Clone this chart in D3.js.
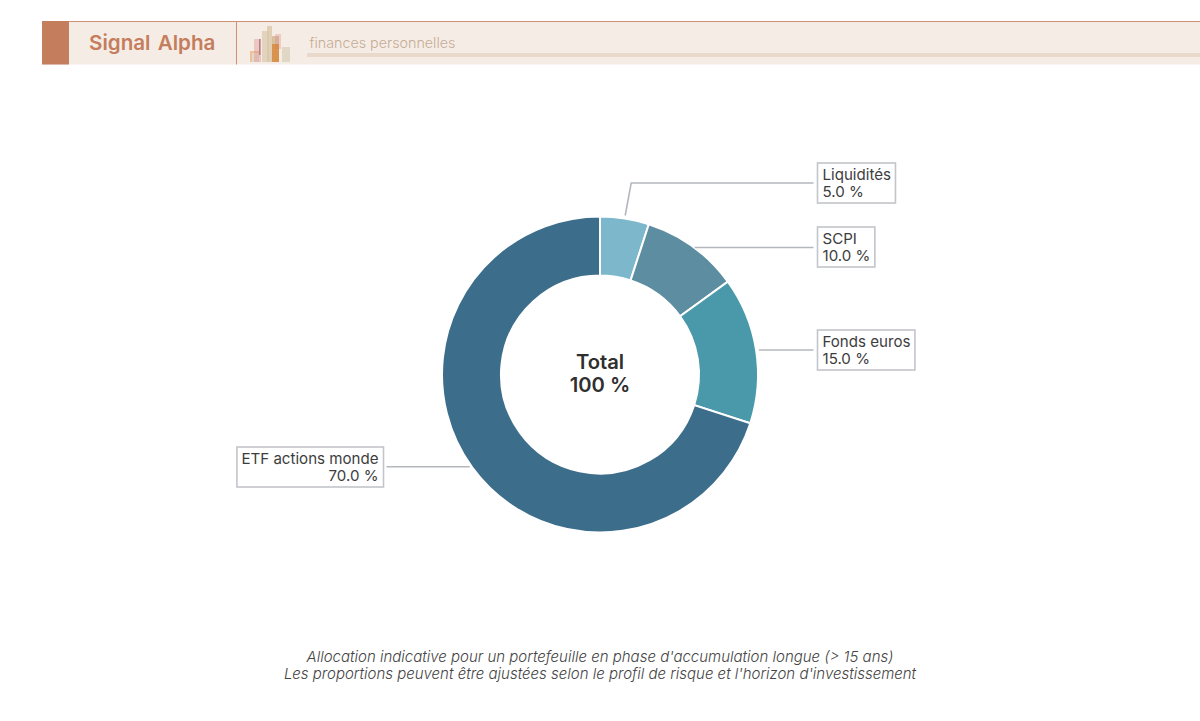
<!DOCTYPE html>
<html lang="fr">
<head>
<meta charset="utf-8">
<title>Signal Alpha</title>
<script src="https://cdn.jsdelivr.net/npm/d3@7"></script>
<style>
  html, body { margin: 0; padding: 0; background: #ffffff; }
  svg { display: block; }
</style>
</head>
<body>
<svg id="chart" width="1200" height="721"></svg>
<script>
// Allocation, in percent, clockwise from twelve o'clock
const categories = ["Liquidités", "SCPI", "Fonds euros", "ETF actions monde"];
const shares = [5, 10, 15, 70];
const sliceColors = ["#7db7cb", "#5d8da0", "#4a99aa", "#3c6e8b"];
const centerLines = ["Total", "100 %"];
const captionLines = [
  "Allocation indicative pour un portefeuille en phase d'accumulation longue (> 15 ans)",
  "Les proportions peuvent être ajustées selon le profil de risque et l'horizon d'investissement"
];
const brandName = "Signal Alpha";
const sectionName = "finances personnelles";

// Small skyline emblem in the header band: [x, top, width, height, colour, opacity]
const emblemBars = [
  [250, 51, 9, 11, "#e0913f", 0.45],
  [252, 53, 7, 9, "#e3dccb", 0.9],
  [254, 39, 7, 23, "#dc8f8c", 0.4],
  [259, 39, 1.5, 16, "#a8606a", 0.7],
  [262, 31, 7, 31, "#dccdb4", 0.8],
  [267, 26, 5, 36, "#d9c6a4", 0.75],
  [272, 36, 7, 26, "#c8a878", 0.65],
  [275, 34, 6, 15, "#dc8f8c", 0.35],
  [272, 44, 7, 18, "#d9761a", 0.6],
  [282, 47, 8, 15, "#dcd2bd", 0.8]
];

const layout = {
  cx: 600, cy: 374.5, inner: 99, outer: 158,
  rimRadius: 157, leaderRadius: 161,
  boxLeftRight: 817.5, boxLeftLeft: 383.5, elbowY: 183
};
const uiFont = "Inter, 'Noto Sans', sans-serif";

const svg = d3.select("#chart");

// Header band
const header = svg.append("g");
header.append("rect").attr("x", 42).attr("y", 21).attr("width", 1158).attr("height", 43.5).attr("fill", "#f6ece6");
header.append("rect").attr("x", 42).attr("y", 21).attr("width", 1158).attr("height", 1).attr("fill", "#cf9078");
header.append("rect").attr("x", 42).attr("y", 21).attr("width", 27).attr("height", 43.5).attr("fill", "#c47e5d");
header.append("rect").attr("x", 236).attr("y", 21).attr("width", 1).attr("height", 43.5).attr("fill", "#cf9078");
header.append("text").attr("x", 89).attr("y", 50)
  .attr("font-family", uiFont).attr("font-weight", 600).attr("font-size", 20.6)
  .attr("word-spacing", 2).attr("fill", "#c47e5d").text(brandName);
header.append("g").selectAll("rect").data(emblemBars).join("rect")
  .attr("x", d => d[0]).attr("y", d => d[1]).attr("width", d => d[2]).attr("height", d => d[3])
  .attr("fill", d => d[4]).attr("opacity", d => d[5]);
header.append("text").attr("x", 309.5).attr("y", 48)
  .attr("font-family", uiFont).attr("font-weight", 300).attr("font-size", 14.3)
  .attr("fill", "#c4ad95").text(sectionName);
header.append("rect").attr("x", 307).attr("y", 53).attr("width", 893).attr("height", 4).attr("fill", "#e8d9cb");

// Donut
const pie = d3.pie().value(d => d).sort(null);
const arc = d3.arc().innerRadius(layout.inner).outerRadius(layout.outer);
const color = d3.scaleOrdinal().domain(categories).range(sliceColors);
const slices = pie(shares);

const donut = svg.append("g").attr("transform", `translate(${layout.cx},${layout.cy})`);
donut.selectAll("path").data(slices).join("path")
  .attr("d", arc)
  .attr("fill", (d, i) => color(categories[i]))
  .attr("stroke", "#ffffff").attr("stroke-width", 2);

// Text in the hole
svg.append("g").selectAll("text").data(centerLines).join("text")
  .attr("x", layout.cx).attr("y", (d, i) => 369 + i * 23)
  .attr("text-anchor", "middle")
  .attr("font-family", uiFont).attr("font-weight", 600).attr("font-size", 20.2)
  .attr("fill", "#2f2f2f").text(d => d);

// Callouts: a leader from the rim of each slice to a boxed label
const labels = svg.append("g");
slices.forEach((s, i) => {
  const mid = (s.startAngle + s.endAngle) / 2;
  const sx = layout.cx + layout.leaderRadius * Math.sin(mid);
  const isTopSlice = i === 0;
  const sy = layout.cy - (isTopSlice ? layout.leaderRadius : layout.rimRadius) * Math.cos(mid);
  const onRight = sx > layout.cx;
  const y = isTopSlice ? layout.elbowY : sy;
  const endX = onRight ? layout.boxLeftRight - 4 : layout.boxLeftLeft + 3;

  const points = isTopSlice
    ? [[sx, sy], [sx + 6, y], [endX, y]]
    : [[sx, sy], [endX, y]];
  labels.append("path")
    .attr("d", d3.line()(points))
    .attr("fill", "none").attr("stroke", "#b4b8bd").attr("stroke-width", 1.6);

  const box = labels.append("g");
  const frame = box.append("rect");
  const anchor = onRight ? "start" : "end";
  const textX = onRight ? layout.boxLeftRight + 5 : layout.boxLeftLeft - 5;
  const block = [categories[i], `${shares[i].toFixed(1)} %`];
  const baseY = Math.round(y) - 3;
  const texts = box.selectAll("text").data(block).join("text")
    .attr("x", textX).attr("y", (d, k) => baseY + k * 17)
    .attr("text-anchor", anchor)
    .attr("font-family", uiFont).attr("font-size", 15.1)
    .attr("fill", "#3d3d3d").text(d => d);
  const widest = d3.max(texts.nodes(), n => n.getComputedTextLength());
  const boxW = widest + 9.5;
  frame
    .attr("x", onRight ? layout.boxLeftRight : layout.boxLeftLeft - boxW)
    .attr("y", Math.round(y) - 20)
    .attr("width", boxW).attr("height", 40)
    .attr("fill", "#ffffff").attr("stroke", "#c2c5ca").attr("stroke-width", 1.6);
});

// Caption under the chart
svg.append("g").selectAll("text").data(captionLines).join("text")
  .attr("x", 600).attr("y", (d, i) => 662 + i * 17)
  .attr("text-anchor", "middle")
  .attr("font-family", uiFont).attr("font-style", "italic").attr("font-weight", 300)
  .attr("font-size", 15).attr("fill", "#444444").text(d => d);
</script>
</body>
</html>
